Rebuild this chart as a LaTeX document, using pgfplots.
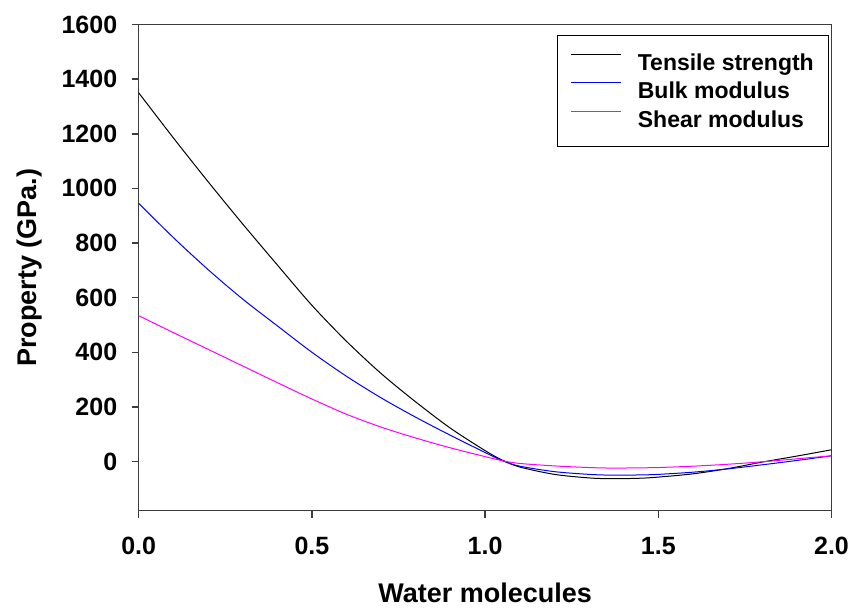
\documentclass[border=0pt]{standalone}
\usepackage{pgfplots}
\pgfplotsset{compat=1.18}
\usepackage{fontspec}
\setmainfont{Liberation Sans}
\definecolor{mblue}{RGB}{0,0,255}
\definecolor{mmag}{RGB}{255,0,255}
\definecolor{axgray}{RGB}{60,60,60}
\begin{document}
\begin{tikzpicture}
\begin{axis}[
  scale only axis, width=692.8pt, height=486.2pt,
  xmin=0, xmax=2, ymin=-180, ymax=1600,
  xtick={0,0.5,1,1.5,2}, ytick={0,200,...,1600},
  /pgf/number format/assume math mode=true,
  /pgf/number format/1000 sep={},
  xticklabel style={/pgf/number format/.cd, fixed, fixed zerofill, precision=1, /tikz/.cd, yshift=-16pt},
  yticklabel style={xshift=-11pt},
  tick align=outside, major tick length=7pt,
  xtick pos=bottom, ytick pos=left,
  ticklabel style={font=\fontsize{25}{29}\selectfont\bfseries},
  label style={font=\fontsize{27}{31}\selectfont\bfseries},
  axis line style={line width=1.5pt, axgray},
  tick style={line width=1.5pt, axgray},
  xlabel={Water molecules},
  ylabel={Property (GPa.)},
  xlabel style={at={(axis description cs:0.5,-0.1898)}, anchor=base},
  ylabel style={at={(axis description cs:-0.1472,0.5)}, anchor=base},
  legend cell align=left,
  legend style={at={(axis description cs:1,1)}, anchor=north east, xshift=-3.5pt, yshift=-10.5pt,
    inner xsep=14pt, inner ysep=13pt,
    font=\fontsize{23}{27}\selectfont\bfseries,
    nodes={inner sep=0pt, text height=22pt, text depth=6.5pt},
    column sep=16pt, row sep=0pt},
  legend image code/.code={\draw[#1, line width=1pt] (0pt,8.2pt) -- (50pt,8.2pt);},
]
\addplot[black, line width=1pt, smooth] coordinates {
(0,1350) (0.1,1185) (0.2,1025) (0.3,870) (0.4,720) (0.5,572) (0.6,440) (0.7,322)
(0.8,218) (0.9,122) (1.0,40) (1.05,5) (1.1,-20) (1.2,-47) (1.3,-60) (1.37,-63)
(1.45,-61) (1.5,-57) (1.6,-45) (1.7,-26) (1.8,-2) (1.9,20) (2.0,43)};
\addlegendentry{Tensile strength}
\addplot[mblue, line width=1pt, smooth] coordinates {
(0,945) (0.1,820) (0.2,703) (0.3,595) (0.4,497) (0.5,400) (0.6,312) (0.7,233)
(0.8,162) (0.9,96) (1.0,33) (1.05,3) (1.1,-17) (1.2,-37) (1.3,-47) (1.37,-50)
(1.45,-49) (1.5,-47) (1.6,-39) (1.7,-27) (1.8,-12) (1.9,4) (2.0,21)};
\addlegendentry{Bulk modulus}
\addplot[mmag, line width=1pt, smooth] coordinates {
(0,534) (0.1,472) (0.2,411) (0.3,350) (0.4,289) (0.5,229) (0.6,173) (0.7,126)
(0.8,86) (0.9,50) (1.0,18) (1.05,3) (1.1,-7) (1.2,-16) (1.3,-22) (1.37,-24)
(1.45,-23) (1.5,-22) (1.6,-17) (1.7,-10) (1.8,-1) (1.9,10) (2.0,21)};
\addlegendentry{Shear modulus}
\coordinate (bl) at (rel axis cs:0,0);
\coordinate (tr) at (rel axis cs:1,1);
\end{axis}
\pgfresetboundingbox
\path ([shift={(-138.7pt,-101.3pt)}]bl) rectangle ([shift={(24.5pt,24.5pt)}]tr);
\end{tikzpicture}
\end{document}
